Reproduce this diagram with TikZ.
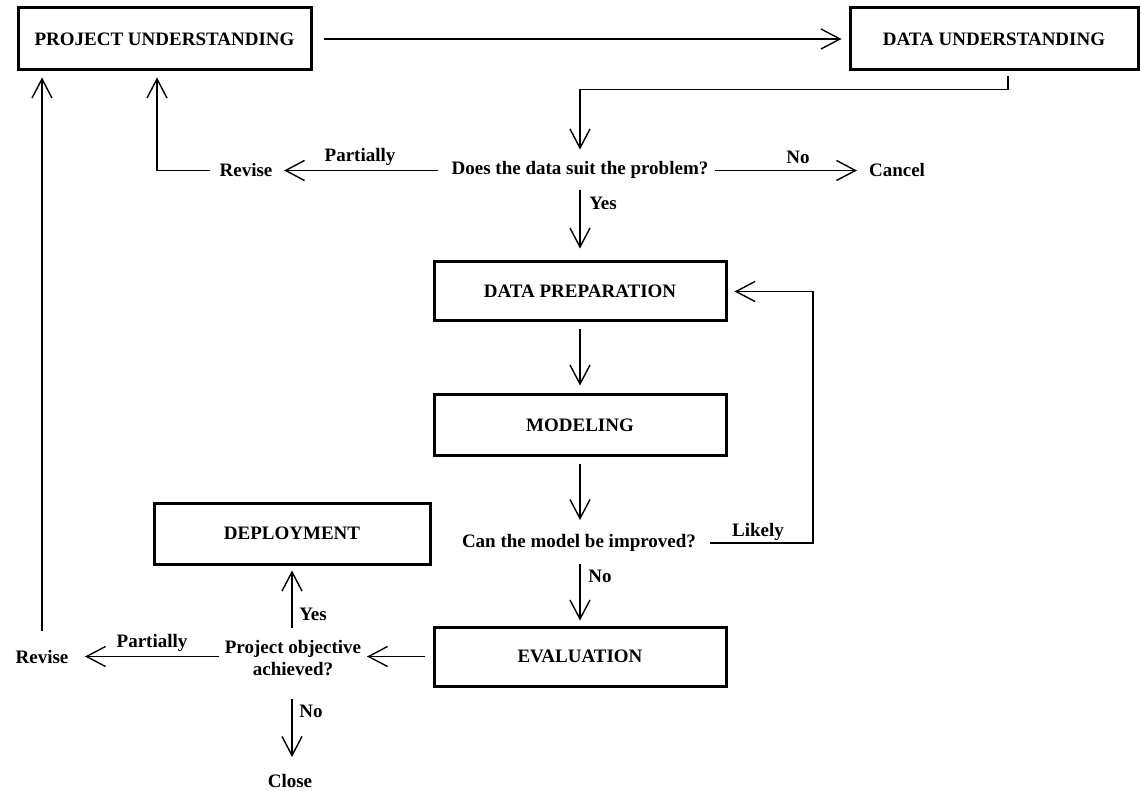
\documentclass[tikz,border=0pt]{standalone}
\usepackage{fontspec}
\setmainfont{Liberation Serif}
\usetikzlibrary{arrows.meta,calc}
\tikzset{
  box/.style={draw, line width=3pt, rectangle, inner sep=0pt, font=\fontsize{19}{22}\selectfont\bfseries},
  txt/.style={inner sep=0pt, font=\fontsize{19}{22}\selectfont\bfseries},
  arr/.style={line width=1.4pt, -{Straight Barb[length=19pt,width=20pt]}}
}
\begin{document}
\begin{tikzpicture}[x=1pt,y=-1pt]
\useasboundingbox (0,0) rectangle (1141,791);
% boxes
\node[box, minimum width=293pt, minimum height=62pt] (pu) at (164.5,39) {PROJECT UNDERSTANDING};
\node[box, minimum width=288pt, minimum height=62pt] (du) at (994,39) {DATA UNDERSTANDING};
\node[box, minimum width=292pt, minimum height=59pt] (dp) at (580,291.5) {DATA PREPARATION};
\node[box, minimum width=292pt, minimum height=61pt] (mod) at (580,425.5) {MODELING};
\node[box, minimum width=292pt, minimum height=59pt] (ev) at (580,656.5) {EVALUATION};
\node[box, minimum width=276pt, minimum height=61pt] (dep) at (292,533.5) {DEPLOYMENT};
% texts
\node[txt] (q1) at (580,169.5) {Does the data suit the problem?};
\node[txt] (rev1) at (246,170.5) {Revise};
\node[txt] (cancel) at (897,170.5) {Cancel};
\node[txt] (q2) at (579,543) {Can the model be improved?};
\node[txt, align=center] (q3) at (293,658.5) {Project objective\\achieved?};
\node[txt] (rev2) at (42,656.5) {Revise};
\node[txt] (close) at (290,781) {Close};
% labels
\node[txt] (l1) at (360,157) {Partially};
\node[txt] (l2) at (798,157) {No};
\node[txt] (l3) at (603,203) {Yes};
\node[txt] (l4) at (758,532) {Likely};
\node[txt] (l5) at (600,576) {No};
\node[txt] (l6) at (152,643) {Partially};
\node[txt] (l7) at (313,614) {Yes};
\node[txt] (l8) at (311,711) {No};
% connectors
\draw[arr] ($(pu.east)+(11,0)$) -- ($(du.west)+(-7,0)$);
\draw[arr] ($(du.south)+(14,5)$) |- ($(q1.center)+(0,-80)$) -- ($(q1.center)+(0,-20)$);
\draw[arr] ($(q1.center)+(-142,1)$) -- ($(rev1.center)+(38,0)$);
\draw[arr] ($(rev1.center)+(-36,0)$) -| ($(pu.south)+(-7.5,6)$);
\draw[arr] ($(q1.center)+(135,1)$) -- ($(cancel.center)+(-40,0)$);
\draw[arr] ($(q1.center)+(0,21)$) -- ($(dp.north)+(0,-12)$);
\draw[arr] ($(dp.south)+(0,7)$) -- ($(mod.north)+(0,-8)$);
\draw[arr] ($(mod.south)+(0,7)$) -- ($(q2.center)+(1,-23)$);
\draw[arr] ($(q2.center)+(131,0)$) -- ++(103,0) |- ($(dp.east)+(7,0)$);
\draw[arr] ($(q2.center)+(1,21)$) -- ($(ev.north)+(0,-5)$);
\draw[arr] ($(ev.west)+(-8,0)$) -- ($(q3.center)+(74,-2)$);
\draw[arr] ($(q3.center)+(-74,-2)$) -- ($(rev2.center)+(43,0)$);
\draw[arr] ($(rev2.center)+(0,-26)$) -- ($(rev2.center |- pu.south)+(0,6)$);
\draw[arr] ($(q3.center)+(-1,-31)$) -- ($(dep.south)+(0,5)$);
\draw[arr] ($(q3.center)+(-1,40)$) -- ($(close.center)+(2,-24)$);
\end{tikzpicture}
\end{document}
